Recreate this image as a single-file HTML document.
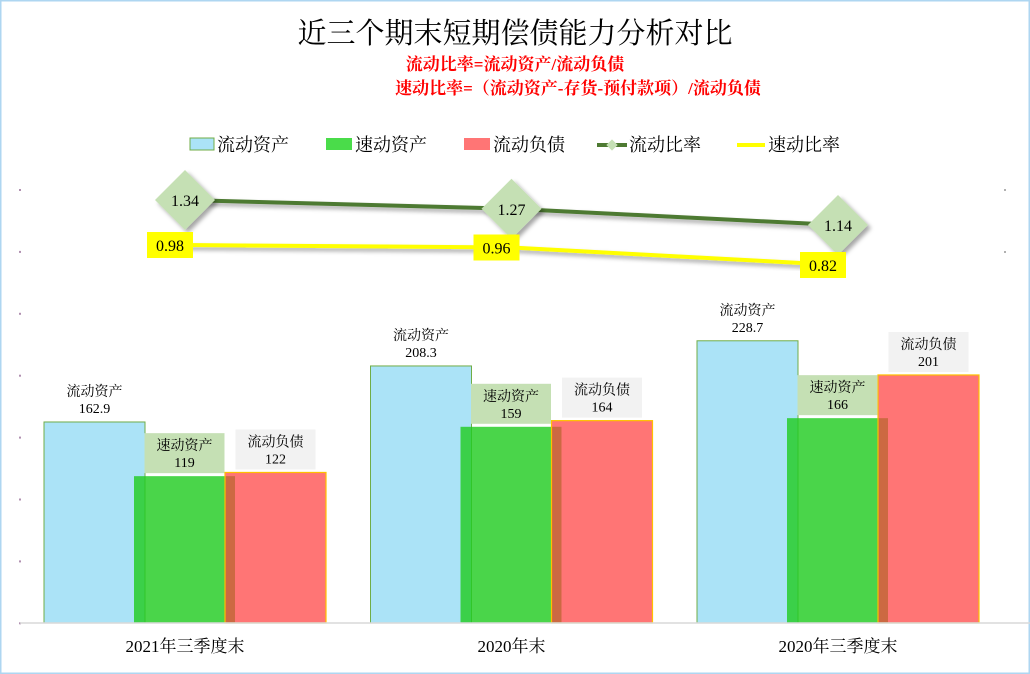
<!DOCTYPE html>
<html><head><meta charset="utf-8">
<style>
body{margin:0;background:#fff;}
#wrap{position:relative;width:1030px;height:674px;overflow:hidden;font-family:"Liberation Serif","Noto Serif CJK SC","Noto Sans CJK SC",serif;}
svg text{font-family:"Liberation Serif","Noto Serif CJK SC","Noto Sans CJK SC",serif;}
</style></head>
<body>
<div id="wrap">
<svg id="chart" width="1030" height="674" xmlns="http://www.w3.org/2000/svg">
  <defs>
    <filter id="sh" x="-30%" y="-30%" width="160%" height="160%"><feDropShadow dx="3" dy="3" stdDeviation="2" flood-color="#000" flood-opacity="0.35"/></filter>
  </defs>
  <rect x="0.5" y="0.5" width="1029" height="673" fill="#fff" stroke="#aed6f1" stroke-width="2"/>
  <text x="515" y="43" text-anchor="middle" font-size="29" fill="#000">近三个期末短期偿债能力分析对比</text>
  <text x="515" y="70" text-anchor="middle" font-size="17" font-weight="bold" fill="#ff0000">流动比率=流动资产/流动负债</text>
  <text x="578" y="94" text-anchor="middle" font-size="17" font-weight="bold" fill="#ff0000">速动比率=（流动资产-存货-预付款项）/流动负债</text>
  <g id="legend">
    <g><rect x="190" y="138" width="24" height="12" fill="#abe3f7" stroke="#70ad47"/><text x="217" y="151" font-size="18">流动资产</text></g>
    <g><rect x="326" y="138" width="26" height="12" fill="#4adc4a"/><text x="355" y="151" font-size="18">速动资产</text></g>
    <g><rect x="464" y="138" width="26" height="12" fill="#ff7575"/><text x="493" y="151" font-size="18">流动负债</text></g>
    <g><line x1="597" y1="145" x2="627" y2="145" stroke="#4e7a32" stroke-width="4"/><rect x="608" y="141" width="8" height="8" fill="#c5e0b4" transform="rotate(45 612 145)"/><text x="629" y="151" font-size="18">流动比率</text></g>
    <g><line x1="737" y1="145" x2="765" y2="145" stroke="#ffff00" stroke-width="4"/><text x="768" y="151" font-size="18">速动比率</text></g>
  </g>
  <g id="ticks"></g>
  <g id="bars"></g>
  <line x1="20" y1="623" x2="1030" y2="623" stroke="#d9d9d9" stroke-width="1.5"/>
  <g id="xlabels"></g>
  <g id="lines"></g>
</svg>
</div>
<script>
const categories = ["2021年三季度末", "2020年末", "2020年三季度末"];
const currentAssets = [162.9, 208.3, 228.7];
const quickAssets = [119, 159, 166];
const currentLiabilities = [122, 164, 201];
const currentRatio = [1.34, 1.27, 1.14];
const quickRatio = [0.98, 0.96, 0.82];
const currentAssetLabels = ["162.9", "208.3", "228.7"];
const quickAssetLabels = ["119", "159", "166"];
const liabilityLabels = ["122", "164", "201"];
const currentRatioLabels = ["1.34", "1.27", "1.14"];
const quickRatioLabels = ["0.98", "0.96", "0.82"];

const NS = "http://www.w3.org/2000/svg";
function mk(tag, attrs, parent){const e=document.createElementNS(NS,tag);for(const k in attrs)e.setAttribute(k,attrs[k]);parent.appendChild(e);return e;}
const xC = i => 185 + i*326.5;
const yB = v => 623 - v*1.234;
const yR = v => 367.5 - v*125;

const ticks = document.getElementById('ticks');
for(let k=0;k<8;k++){
  const y = 190 + k*61.9;
  const d = mk('rect',{x:19,y:y-1,width:2,height:2,fill:'#b090b0'},ticks);
  
  
}
[190,252].forEach(y=>{
  const d = mk('rect',{x:1004,y:y-1,width:2,height:2,fill:'#b0b0b0'},ticks);
  
  
});

const bars = document.getElementById('bars');
const BW = 101;
function label(parent, cx, topY, name, val, bg, nm){
  const g = mk('g',{},parent);
  
  
  if(bg){ mk('rect',{x:cx-40,y:topY-43,width:80,height:40,fill:bg},g); }
  const t1 = mk('text',{x:cx,y:topY-26,'text-anchor':'middle','font-size':14},g); t1.textContent=name;
  const t2 = mk('text',{x:cx,y:topY-9,'text-anchor':'middle','font-size':14},g); t2.textContent=val;
}
categories.forEach((c,i)=>{
  const cx = xC(i);
  const x1 = cx-141, x2 = cx-51, x3 = cx+40;
  const b1 = mk('rect',{x:x1,y:yB(currentAssets[i]),width:BW,height:623-yB(currentAssets[i]),fill:'#abe3f7',stroke:'#70ad47','stroke-width':1},bars);
  
  
  const b2 = mk('rect',{x:x2,y:yB(quickAssets[i]),width:BW,height:623-yB(quickAssets[i]),fill:'#22cc22','fill-opacity':0.82},bars);
  
  
  const b3 = mk('rect',{x:x3,y:yB(currentLiabilities[i]),width:BW,height:623-yB(currentLiabilities[i]),fill:'#ff4040','fill-opacity':0.72,stroke:'#ffc000','stroke-width':1.2},bars);
  
  
  label(bars, x1+BW/2, yB(currentAssets[i]), '流动资产', currentAssetLabels[i], null, 'label-current-assets');
  label(bars, x2+BW/2, yB(quickAssets[i]), '速动资产', quickAssetLabels[i], '#c5e0b4', 'label-quick-assets');
  label(bars, x3+BW/2, yB(currentLiabilities[i]), '流动负债', liabilityLabels[i], '#f2f2f2', 'label-current-liabilities');
  const xl = mk('text',{x:cx,y:652,'text-anchor':'middle','font-size':17},document.getElementById('xlabels'));
  xl.textContent = c;
  
  
});

const lines = document.getElementById('lines');
const crPts = currentRatio.map((v,i)=>xC(i)+','+yR(v)).join(' ');
const qrPts = quickRatio.map((v,i)=>xC(i)+','+yR(v)).join(' ');
const l1 = mk('polyline',{points:crPts,fill:'none',stroke:'#4e7a32','stroke-width':4,filter:'url(#sh)'},lines);


const l2 = mk('polyline',{points:qrPts,fill:'none',stroke:'#ffff00','stroke-width':4,filter:'url(#sh)'},lines);


currentRatio.forEach((v,i)=>{
  const x=xC(i), y=yR(v);
  const g = mk('g',{},lines);
  
  
  mk('polygon',{points:`${x},${y-30} ${x+30},${y} ${x},${y+30} ${x-30},${y}`,fill:'#c5e0b4',filter:'url(#sh)'},g);
  const t = mk('text',{x:x,y:y+6,'text-anchor':'middle','font-size':16},g); t.textContent=currentRatioLabels[i];
});
quickRatio.forEach((v,i)=>{
  const x=xC(i), y=yR(v);
  const g = mk('g',{},lines);
  
  
  mk('rect',{x:x-38,y:y-13,width:46,height:26,fill:'#ffff00'},g);
  const t = mk('text',{x:x-15,y:y+6,'text-anchor':'middle','font-size':16},g); t.textContent=quickRatioLabels[i];
});
</script>
</body></html>
